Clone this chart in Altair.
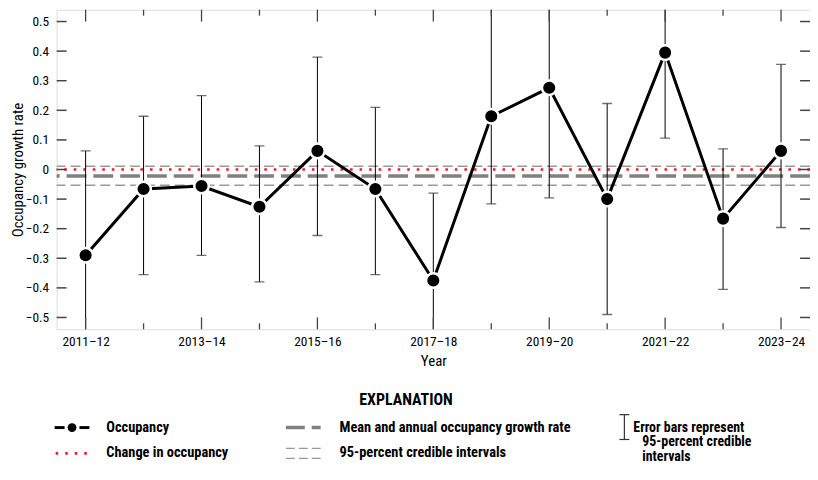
import altair as alt
import pandas as pd

years = ["2011–12", "2012–13", "2013–14", "2014–15", "2015–16", "2016–17", "2017–18",
         "2018–19", "2019–20", "2020–21", "2021–22", "2022–23", "2023–24"]
occupancy = [-0.29, -0.066, -0.056, -0.126, 0.063, -0.066, -0.375, 0.18, 0.276, -0.10, 0.395, -0.166, 0.063]
ci_lower = [-0.65, -0.355, -0.29, -0.38, -0.223, -0.355, -0.65, -0.116, -0.096, -0.49, 0.106, -0.405, -0.196]
ci_upper = [0.063, 0.18, 0.25, 0.08, 0.38, 0.21, -0.08, 0.65, 0.65, 0.223, 0.65, 0.07, 0.355]
mean_rate = [-0.022]
mean_ci = [-0.053, 0.011]
change_line = [0.0]
y_ticks = [-0.5, -0.4, -0.3, -0.2, -0.1, 0.0, 0.1, 0.2, 0.3, 0.4, 0.5]

FONT = "Liberation Sans Narrow, Arial Narrow, Roboto Condensed, DejaVu Sans Condensed, sans-serif"
W, H = 759, 322

df = pd.DataFrame({"year": years, "val": occupancy, "lo": ci_lower, "hi": ci_upper})
df_major = pd.DataFrame({"year": years[::2]})
df_minor = pd.DataFrame({"year": years[1::2]})
df_yt = pd.DataFrame({"val": y_ticks})

xscale = alt.Scale(type="point", padding=0.5, domain=years)
yscale = alt.Scale(domain=[-0.54, 0.54], nice=False, zero=False)
xaxis = alt.Axis(values=years[::2], labelAngle=0, ticks=False, domain=False, grid=False,
                 labelPadding=5, title="Year", titlePadding=6, labelFontSize=13.5,
                 titleFontSize=15, labelFont=FONT, titleFont=FONT, titleFontWeight="normal",
                 labelColor="black", titleColor="black")
yaxis = alt.Axis(values=y_ticks, format=".1~f", ticks=False, domain=False, grid=False,
                 labelPadding=8, title="Occupancy growth rate", titlePadding=0,
                 labelFontSize=13.5, titleFontSize=15, labelFont=FONT, titleFont=FONT,
                 titleFontWeight="normal", labelColor="black", titleColor="black")


def X(f="year"):
    return alt.X(f, type="nominal", scale=xscale, axis=xaxis, sort=years)


def Y(f="val"):
    return alt.Y(f, type="quantitative", scale=yscale, axis=yaxis)


TICK = "#444444"

# inward tick marks on all four sides
ytick_l = alt.Chart(df_yt).mark_rule(color=TICK, strokeWidth=1.5).encode(
    y=Y(), x=alt.value(0), x2=alt.value(10))
ytick_r = alt.Chart(df_yt).mark_rule(color=TICK, strokeWidth=1.5).encode(
    y=Y(), x=alt.value(W - 10), x2=alt.value(W))
xtick_bm = alt.Chart(df_major).mark_rule(color=TICK, strokeWidth=1.3).encode(
    x=X(), y=alt.value(H), y2=alt.value(H - 12))
xtick_bn = alt.Chart(df_minor).mark_rule(color=TICK, strokeWidth=1.3).encode(
    x=X(), y=alt.value(H), y2=alt.value(H - 6))
xtick_tm = alt.Chart(df_major).mark_rule(color=TICK, strokeWidth=1.3).encode(
    x=X(), y=alt.value(0), y2=alt.value(12))
xtick_tn = alt.Chart(df_minor).mark_rule(color=TICK, strokeWidth=1.3).encode(
    x=X(), y=alt.value(0), y2=alt.value(6))

# horizontal reference lines
ci_lines = alt.Chart(pd.DataFrame({"val": mean_ci})).mark_rule(
    color="#999999", strokeWidth=1.4, strokeDash=[10, 5]).encode(y=Y())
mean_line = alt.Chart(pd.DataFrame({"val": mean_rate})).mark_rule(
    color="#808080", strokeWidth=3.5, strokeDash=[20, 7]).encode(y=Y())
change = alt.Chart(pd.DataFrame({"val": change_line})).mark_rule(
    color="#ee1c25", strokeWidth=2.6, strokeDash=[2.6, 7]).encode(y=Y())

# error bars
err = alt.Chart(df).mark_rule(color="black", strokeWidth=1, clip=True).encode(
    x=X(), y=Y("lo"), y2="hi")
cap_lo = alt.Chart(df).mark_tick(color="#333333", thickness=1.3, size=10, orient="horizontal",
                                 clip=True).encode(x=X(), y=Y("lo"))
cap_hi = alt.Chart(df).mark_tick(color="#333333", thickness=1.3, size=10, orient="horizontal",
                                 clip=True).encode(x=X(), y=Y("hi"))

line = alt.Chart(df).mark_line(color="black", strokeWidth=3).encode(x=X(), y=Y())
pts = alt.Chart(df).mark_point(filled=True, color="black", size=215, opacity=1,
                               stroke="white", strokeWidth=2.5, strokeOpacity=1).encode(
    x=X(), y=Y())

# explanation (legend)
one = pd.DataFrame({"k": [0]})
L = alt.Chart(one)


def txt(s, x, y, size=14.5, bold=True, align="left"):
    return L.mark_text(text=s, font=FONT, fontSize=size, fontWeight="bold" if bold else "normal",
                       align=align, baseline="middle", color="black").encode(
        x=alt.value(x), y=alt.value(y))


def seg(x1, x2, y1, y2, **kw):
    return L.mark_rule(**kw).encode(x=alt.value(x1), x2=alt.value(x2),
                                    y=alt.value(y1), y2=alt.value(y2))


r1, r2 = 421, 447
legend = [
    txt("EXPLANATION", 352, 393, size=16, align="center"),
    seg(-2, 8, r1, r1, color="black", strokeWidth=3),
    seg(23, 33, r1, r1, color="black", strokeWidth=3),
    L.mark_point(filled=True, color="black", size=80, opacity=1).encode(
        x=alt.value(15.5), y=alt.value(r1)),
    txt("Occupancy", 50, r1),
    seg(-1, 33, r2, r2, color="#ee1c25", strokeWidth=2.6, strokeDash=[2.6, 7]),
    txt("Change in occupancy", 50, r2),
    seg(231, 266, r1, r1, color="#808080", strokeWidth=3.5, strokeDash=[19, 7]),
    txt("Mean and annual occupancy growth rate", 285, r1),
    seg(231, 266, r2 - 5, r2 - 5, color="#999999", strokeWidth=1.3, strokeDash=[9, 4]),
    seg(231, 266, r2 + 5, r2 + 5, color="#999999", strokeWidth=1.3, strokeDash=[9, 4]),
    txt("95-percent credible intervals", 285, r2),
    seg(572, 572, 408, 433, color="#333333", strokeWidth=1.2),
    seg(567, 577, 408, 408, color="#333333", strokeWidth=1.2),
    seg(567, 577, 433, 433, color="#333333", strokeWidth=1.2),
    txt("Error bars represent", 581, r1, size=14),
    txt("95-percent credible", 590, 436, size=14),
    txt("intervals", 590, 451, size=14),
]

chart = alt.layer(
    ci_lines, mean_line, change, err, cap_lo, cap_hi, line, pts,
    ytick_l, ytick_r, xtick_bm, xtick_bn, xtick_tm, xtick_tn, *legend
).properties(
    width=W, height=H,
    autosize=alt.AutoSizeParams(type="none"),
    padding={"left": 49, "top": 0, "right": 0, "bottom": 136},
).configure_view(stroke="black", strokeWidth=1.2).configure(background="white")

chart.save("out.html", embed_options={"renderer": "svg", "actions": False})
